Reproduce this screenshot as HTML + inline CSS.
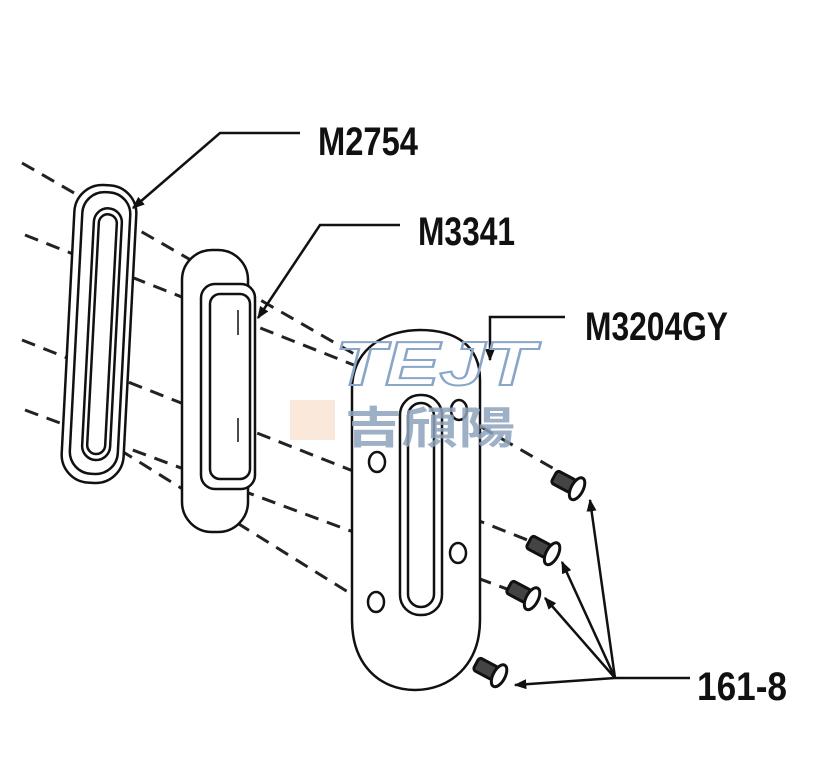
<!DOCTYPE html>
<html><head><meta charset="utf-8"><style>
html,body{margin:0;padding:0;background:#fff;width:825px;height:768px;overflow:hidden}
svg{display:block}
text{font-family:"Liberation Sans",sans-serif;font-weight:bold;fill:#111}
</style></head><body>
<svg width="825" height="768" viewBox="0 0 825 768" xmlns="http://www.w3.org/2000/svg">
<defs>
<marker id="ar" viewBox="0 0 10 10" refX="9" refY="5" markerWidth="5" markerHeight="5" orient="auto-start-reverse"><path d="M0,1 L10,5 L0,9 z" fill="#111"/></marker>
</defs>
<g stroke="#222" stroke-width="3" stroke-dasharray="14 9" fill="none">
<line x1="22" y1="163" x2="570" y2="478"/>
<line x1="25" y1="235" x2="455" y2="405"/>
<line x1="22" y1="340" x2="540" y2="545"/>
<line x1="25" y1="410" x2="515" y2="592"/>
<line x1="120" y1="450" x2="470" y2="668"/>
</g>
<g stroke="#111" stroke-width="2.5" fill="#fff">
<rect x="68" y="185" width="62" height="298" rx="28" transform="rotate(3 99 334)"/>
<rect x="76" y="192" width="48" height="282" rx="22" transform="rotate(3 99 334)" fill="none"/>
<rect x="88" y="208" width="28" height="252" rx="14" transform="rotate(3 99 334)"/>
<rect x="93" y="214" width="18" height="240" rx="9" transform="rotate(3 99 334)" fill="none"/>
</g>
<g stroke="#111" stroke-width="2.5" fill="#fff">
<rect x="182" y="250" width="66" height="282" rx="30"/>
<rect x="201" y="284" width="54" height="205" rx="14"/>
<rect x="210" y="294" width="40" height="185" rx="10" fill="none"/>
<line x1="238" y1="310" x2="238" y2="335" stroke-width="1.5"/>
<line x1="238" y1="418" x2="238" y2="442" stroke-width="1.5"/>
</g>
<g stroke="#111" stroke-width="2.5" fill="#fff">
<path d="M352,390 C352,345 390,330 420,330 C455,330 480,345 480,380 L480,620 C480,665 450,690 415,690 C380,690 352,665 352,620 Z"/>
<rect x="400" y="395" width="42" height="220" rx="20"/>
<rect x="408" y="403" width="26" height="204" rx="13" fill="none"/>
<ellipse cx="377" cy="462" rx="8" ry="10"/>
<ellipse cx="459" cy="410" rx="8" ry="10"/>
<ellipse cx="458" cy="553" rx="8" ry="10"/>
<ellipse cx="376" cy="602" rx="8" ry="10"/>
</g>
<g stroke="#111" stroke-width="3" fill="#444">
<g transform="translate(570,485) rotate(28)"><rect x="-18" y="-7" width="22" height="14" rx="3"/><ellipse cx="8" cy="0" rx="6" ry="12" fill="#fff"/></g>
<g transform="translate(545,550) rotate(28)"><rect x="-18" y="-7" width="22" height="14" rx="3"/><ellipse cx="8" cy="0" rx="6" ry="12" fill="#fff"/></g>
<g transform="translate(525,595) rotate(28)"><rect x="-18" y="-7" width="22" height="14" rx="3"/><ellipse cx="8" cy="0" rx="6" ry="12" fill="#fff"/></g>
<g transform="translate(492,672) rotate(28)"><rect x="-18" y="-7" width="22" height="14" rx="3"/><ellipse cx="8" cy="0" rx="6" ry="12" fill="#fff"/></g>
</g>
<g stroke="#111" stroke-width="2.5" fill="none">
<polyline points="300,133 220,133 133,208" marker-end="url(#ar)"/>
<polyline points="400,225 320,225 258,318" marker-end="url(#ar)"/>
<polyline points="565,317 490,317 490,360" marker-end="url(#ar)"/>
<line x1="615" y1="678" x2="690" y2="678"/>
<line x1="615" y1="678" x2="590" y2="500" marker-end="url(#ar)"/>
<line x1="615" y1="678" x2="562" y2="562" marker-end="url(#ar)"/>
<line x1="615" y1="678" x2="545" y2="598" marker-end="url(#ar)"/>
<line x1="615" y1="678" x2="515" y2="685" marker-end="url(#ar)"/>
</g>
<text x="335" y="385" font-size="62" font-style="italic" style="fill:none;stroke:#8aa6c8;stroke-width:2" textLength="200" lengthAdjust="spacingAndGlyphs">TEJT</text>
<path d="M290,400 L335,400 L335,440 L290,440 Z" fill="#f6d9c2" opacity="0.6"/>
<text x="345" y="443" font-size="44" style="fill:#8ea3bc;font-family:'Liberation Sans','Noto Sans CJK TC',sans-serif" opacity="0.85" textLength="170" lengthAdjust="spacingAndGlyphs">吉頎陽</text>
<text x="318" y="155" font-size="40" textLength="100" lengthAdjust="spacingAndGlyphs">M2754</text>
<text x="418" y="245" font-size="40" textLength="97" lengthAdjust="spacingAndGlyphs">M3341</text>
<text x="585" y="340" font-size="40" textLength="143" lengthAdjust="spacingAndGlyphs">M3204GY</text>
<text x="697" y="700" font-size="40" textLength="90" lengthAdjust="spacingAndGlyphs">161-8</text>
</svg>
</body></html>
